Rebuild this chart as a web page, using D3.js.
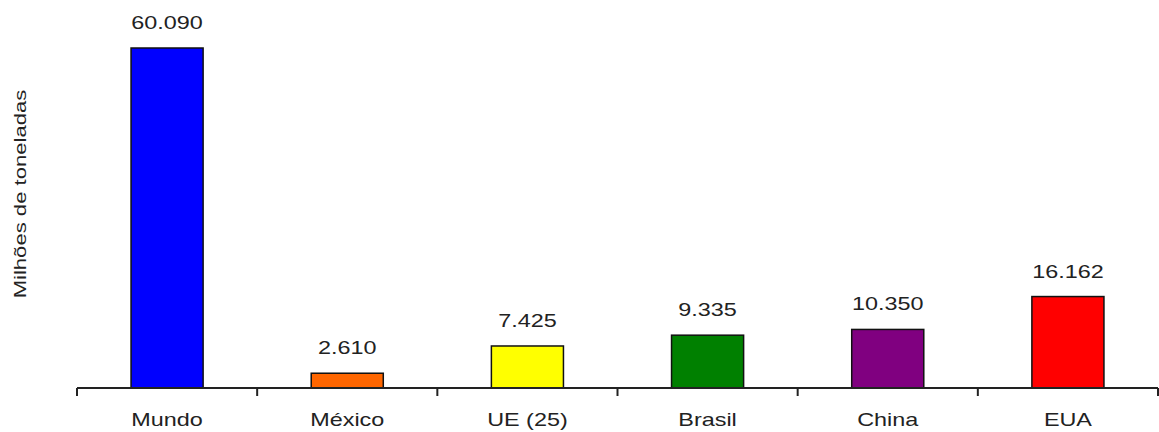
<!DOCTYPE html>
<html>
<head>
<meta charset="utf-8">
<script src="https://cdn.jsdelivr.net/npm/d3@7"></script>
<style>
  html, body { margin: 0; padding: 0; background: #ffffff; }
  svg { display: block; }
  text { font-family: "Liberation Sans", Arial, sans-serif; fill: #222; }
</style>
</head>
<body>
<div id="chart"></div>
<script>
// Produção por região (milhões de toneladas)
const categories = ["Mundo", "México", "UE (25)", "Brasil", "China", "EUA"];
const values = [60.090, 2.610, 7.425, 9.335, 10.350, 16.162];
const valueLabels = ["60.090", "2.610", "7.425", "9.335", "10.350", "16.162"];
const barColors = ["#0000ff", "#ff6600", "#ffff00", "#008000", "#800080", "#ff0000"];
const yTitle = "Milhões de toneladas";

const W = 1159, H = 432;
const left = 77, right = 1158, baseY = 388, topY = 48;
const stretch = 1.3; // wide lettering

const svg = d3.select("#chart").append("svg")
  .attr("width", W).attr("height", H);

const x = d3.scaleBand()
  .domain(categories)
  .range([left, right])
  .paddingInner(0.6)
  .paddingOuter(0.3);

const y = d3.scaleLinear()
  .domain([0, d3.max(values)])
  .range([baseY, topY]);

const data = categories.map((c, i) => ({ c, v: values[i], label: valueLabels[i], color: barColors[i] }));

// bars
svg.append("g").selectAll("rect")
  .data(data)
  .join("rect")
  .attr("x", d => x(d.c))
  .attr("y", d => y(d.v))
  .attr("width", x.bandwidth())
  .attr("height", d => y(0) - y(d.v))
  .attr("fill", d => d.color)
  .attr("stroke", "#111")
  .attr("stroke-width", 1.5);

// value labels
svg.append("g").selectAll("text")
  .data(data)
  .join("text")
  .attr("transform", d => `translate(${x(d.c) + x.bandwidth() / 2},${y(d.v) - 19}) scale(${stretch},1)`)
  .attr("text-anchor", "middle")
  .style("font-size", "18px")
  .text(d => d.label);

// category axis: baseline, separators between categories, labels
const axisG = svg.append("g");
const step = x.step();
const bounds = categories.map(c => x(c) - x.paddingOuter() * step).concat([right]);
axisG.append("line")
  .attr("x1", left).attr("x2", right)
  .attr("y1", baseY).attr("y2", baseY)
  .attr("stroke", "#222").attr("stroke-width", 2);
axisG.selectAll("line.sep")
  .data(bounds)
  .join("line")
  .attr("class", "sep")
  .attr("x1", d => d).attr("x2", d => d)
  .attr("y1", baseY).attr("y2", baseY + 8)
  .attr("stroke", "#222").attr("stroke-width", 2);

const xAxis = svg.append("g")
  .attr("transform", `translate(0,${baseY})`)
  .call(d3.axisBottom(x).tickSize(0).tickPadding(0));
xAxis.select(".domain").remove();
xAxis.selectAll(".tick text")
  .attr("y", 0).attr("dy", null)
  .attr("transform", `translate(0,38) scale(${stretch},1)`)
  .style("font-size", "18px")
  .style("font-family", "'Liberation Sans', Arial, sans-serif")
  .attr("fill", "#222");

// y title
svg.append("text")
  .attr("transform", `translate(26,194) rotate(-90) scale(${stretch},1)`)
  .attr("text-anchor", "middle")
  .style("font-size", "17px")
  .text(yTitle);
</script>
</body>
</html>
